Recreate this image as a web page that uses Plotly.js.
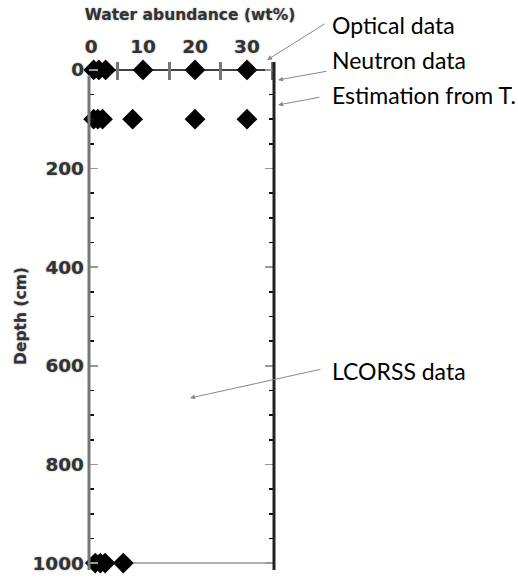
<!DOCTYPE html>
<html>
<head>
<meta charset="utf-8">
<script src="https://cdn.plot.ly/plotly-3.0.1.min.js"></script>
<style>html,body{margin:0;padding:0;background:#fff;}#chart{width:518px;height:585px;}</style>
</head>
<body>
<div id="chart"></div>
<script>
// ---- data (water abundance wt% at given depths, cm) ----
var surfaceWater = [0.5, 1.5, 2.8, 10, 20, 30];      // depth 0 cm
var surfaceDepth = [0, 0, 0, 0, 0, 0];
var midWater = [0.5, 1.3, 2.2, 8, 20, 30];           // depth ~100 cm
var midDepth = [100, 100, 100, 100, 100, 100];
var deepWater = [0.8, 1.8, 2.7, 6.2];                // depth 1000 cm
var deepDepth = [1000, 1000, 1000, 1000];

var xRange = [-0.4, 35.2];
var yRange = [1014, -16];

var labelTexts = ["Optical data", "Neutron data", "Estimation from T.", "LCORSS data"];

var tickFont = {family: "DejaVu Sans", size: 18.5, color: "#333", weight: "bold", shadow: "0 0 2px #999"};

function markerTrace(x, y) {
  return {
    type: "scatter", mode: "markers", x: x, y: y, cliponaxis: false, showlegend: false,
    marker: {symbol: "diamond", size: 16, color: "#000", line: {width: 0}}
  };
}

var data = [
  markerTrace(surfaceWater, surfaceDepth),
  markerTrace(midWater, midDepth),
  markerTrace(deepWater, deepDepth)
];

// layout helpers: plot area is 185 x 508 px with its top-left at (89, 62)
function px2paperX(px) { return (px - 89) / 185; }
function px2paperY(py) { return (570 - py) / 508; }

var arrowHeads = [[267, 60], [278, 80], [278, 105], [190, 398]];
var tails = [[59, -37], [50, -9], [43, -8], [132, -29]];
var textY = [25, 60, 95, 371];
var annotations = [];
for (var i = 0; i < labelTexts.length; i++) {
  annotations.push({
    x: px2paperX(arrowHeads[i][0]), y: px2paperY(arrowHeads[i][1]), xref: "paper", yref: "paper",
    text: "", showarrow: true, ax: tails[i][0], ay: tails[i][1],
    arrowhead: 2, arrowsize: 1, arrowwidth: 1, arrowcolor: "#888", standoff: 0, startstandoff: 0
  });
  annotations.push({
    x: px2paperX(330), y: px2paperY(textY[i]), xref: "paper", yref: "paper",
    text: labelTexts[i], showarrow: false, xanchor: "left", yanchor: "middle",
    font: {family: "Lato", size: 23, color: "#000"}
  });
}

var layout = {
  width: 518, height: 585, autosize: false,
  margin: {l: 89, r: 244, t: 62, b: 15, pad: 0},
  paper_bgcolor: "#fff", plot_bgcolor: "#fff",
  title: {
    text: "Water abundance (wt%)", xref: "container", yref: "container",
    x: 190 / 518, y: 1 - 15 / 585, xanchor: "center", yanchor: "middle",
    font: {family: "DejaVu Sans", size: 15.5, color: "#333", weight: "bold", shadow: "0 0 2px #999"}
  },
  xaxis: {
    side: "top", range: xRange, dtick: 10, tick0: 0, ticks: "",
    showgrid: false, zeroline: false, showline: false,
    tickfont: tickFont, ticklabelstandoff: 4,
    minor: {dtick: 5, tick0: 0, ticks: "inside", ticklen: 18, tickwidth: 3, tickcolor: "#777"}
  },
  yaxis: {
    range: yRange, dtick: 200, tick0: 0, ticks: "inside", ticklen: 9, tickwidth: 1.5, tickcolor: "#999",
    mirror: "ticks", showgrid: false, zeroline: false, showline: false,
    tickfont: tickFont, ticklabelstandoff: 4,
    minor: {dtick: 50, tick0: 0, ticks: "inside", ticklen: 5, tickwidth: 1.5, tickcolor: "#111"},
    title: {text: "Depth (cm)", standoff: 2,
      font: {family: "DejaVu Sans", size: 15.5, color: "#333", weight: "bold", shadow: "0 0 2px #999"}}
  },
  shapes: [
    {type: "line", xref: "x", yref: "y", x0: 0, x1: xRange[1], y0: 0, y1: 0,
      line: {color: "#000", width: 1.5}, layer: "below"},
    {type: "line", xref: "x", yref: "y", x0: 0, x1: xRange[1], y0: 1000, y1: 1000,
      line: {color: "#999", width: 1.5}, layer: "below"},
    {type: "line", xref: "paper", yref: "paper", x0: 0, x1: 0, y0: 0, y1: 0.974,
      line: {color: "#777", width: 3}},
    {type: "line", xref: "paper", yref: "paper", x0: 1, x1: 1, y0: 0, y1: 1,
      line: {color: "#222", width: 3}}
  ],
  annotations: annotations
};

Plotly.newPlot("chart", data, layout, {displayModeBar: false, staticPlot: true});
</script>
</body>
</html>
